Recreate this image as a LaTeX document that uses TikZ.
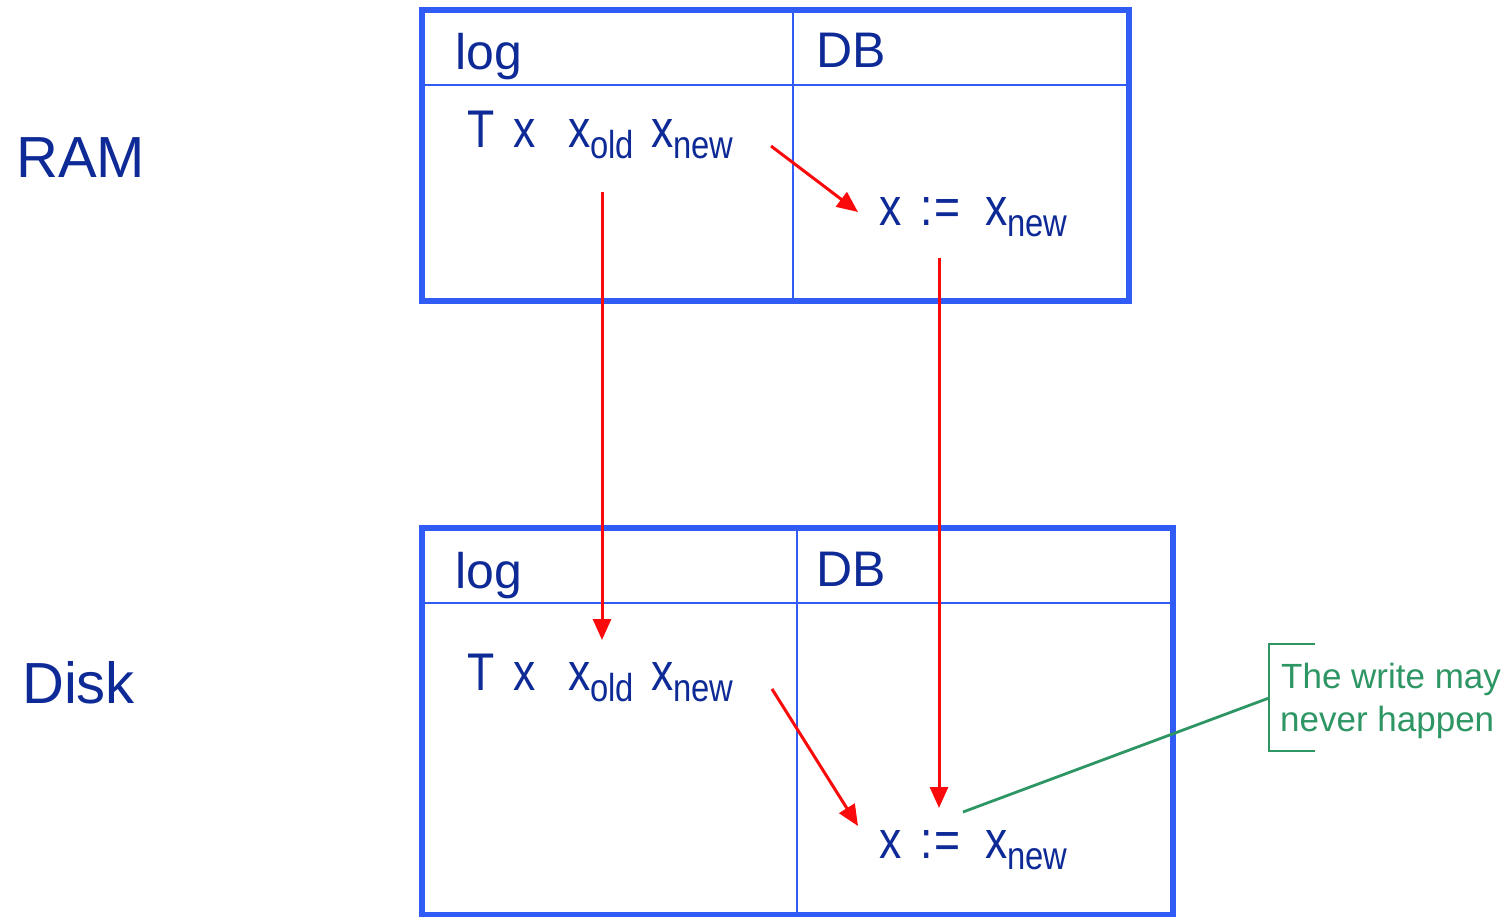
\documentclass[tikz,border=0pt]{standalone}
\usepackage{fontspec}
\setmainfont{Liberation Sans}
\newfontfamily\narrowsans[FakeStretch=0.84]{Liberation Sans}
\usetikzlibrary{arrows.meta}
\definecolor{frameblue}{RGB}{48,92,245}
\definecolor{inkblue}{RGB}{14,42,150}
\definecolor{arrowred}{RGB}{250,10,10}
\definecolor{notegreen}{RGB}{46,150,100}
% subscript in the narrow face
\newcommand\lowsub[1]{\raisebox{-11pt}{\fontsize{39}{39}\selectfont #1}}
% one log record: T, x, x_old, x_new at fixed offsets
\newcommand\logrecord{\makebox[46pt][l]{T}\makebox[55pt][l]{x}\makebox[83pt][l]{x\lowsub{old}}x\lowsub{new}}
% the database assignment
\newcommand\dbassign{\makebox[41pt][l]{x}\makebox[65pt][l]{:\hspace{2pt}=}x\lowsub{new}}
\begin{document}
\begin{tikzpicture}[x=1pt,y=-1pt,
  outerframe/.style={draw=frameblue,line width=5.5pt},
  innerrule/.style={draw=frameblue,line width=2pt},
  headtext/.style={anchor=base west,inner sep=0pt,text=inkblue,
    font=\fontsize{50}{50}\selectfont},
  boxtext/.style={anchor=base west,inner sep=0pt,text=inkblue,
    font=\narrowsans\fontsize{53}{53}\selectfont},
  sidelabel/.style={anchor=base west,inner sep=0pt,text=inkblue,
    font=\fontsize{58}{58}\selectfont},
  notetext/.style={anchor=base west,inner sep=0pt,text=notegreen,
    font=\fontsize{35}{35}\selectfont},
  flow/.style={draw=arrowred,line width=3pt,
    -{Triangle[length=21pt,width=18pt]}},
  noteline/.style={draw=notegreen,line width=2.8pt}]
\useasboundingbox (0,0) rectangle (1512,917);

% memory levels
\node[sidelabel] (ram) at (16,178) {RAM};
\node[sidelabel] (disk) at (22,703) {Disk};

% RAM table
\draw[innerrule] (422,85) -- (1129,85);
\draw[innerrule] (793,10) -- (793,301);
\draw[outerframe] (422,10) rectangle (1129,301);
\node[headtext] (rlog) at (455,70) {log};
\node[headtext] (rdb) at (816,68) {DB};
\node[boxtext] (rrec) at (467,148) {\logrecord};
\node[boxtext] (rset) at (879,226) {\dbassign};

% Disk table
\draw[innerrule] (422,603) -- (1173,603);
\draw[innerrule] (797,528) -- (797,917);
\draw[outerframe] (422,528) rectangle (1173,915);
\node[headtext] (dlog) at (455,588) {log};
\node[headtext] (ddb) at (816,586) {DB};
\node[boxtext] (drec) at (467,690) {\logrecord};
\node[boxtext] (dset) at (879,858) {\dbassign};

% arrow end points
\coordinate (r1a) at (771,146);
\coordinate (r1b) at (858,212);
\coordinate (r2a) at (602,192);
\coordinate (r2b) at (602,640);
\coordinate (r3a) at (939,258);
\coordinate (r3b) at (939,808);
\coordinate (r4a) at (772,689);
\coordinate (r4b) at (858,826);

\draw[flow] (r1a) -- (r1b);
\draw[flow] (r2a) -- (r2b);
\draw[flow] (r3a) -- (r3b);
\draw[flow] (r4a) -- (r4b);

% callout
\node[notetext] (note1) at (1281,688) {The write may};
\node[notetext] (note2) at (1280,731) {never happen};
\coordinate (brk) at (1269,698);
\coordinate (tip) at (963,812);
\draw[noteline] (1315,644) -- (1269,644) -- (1269,751) -- (1315,751);
\draw[noteline] (brk) -- (tip);
\end{tikzpicture}
\end{document}
